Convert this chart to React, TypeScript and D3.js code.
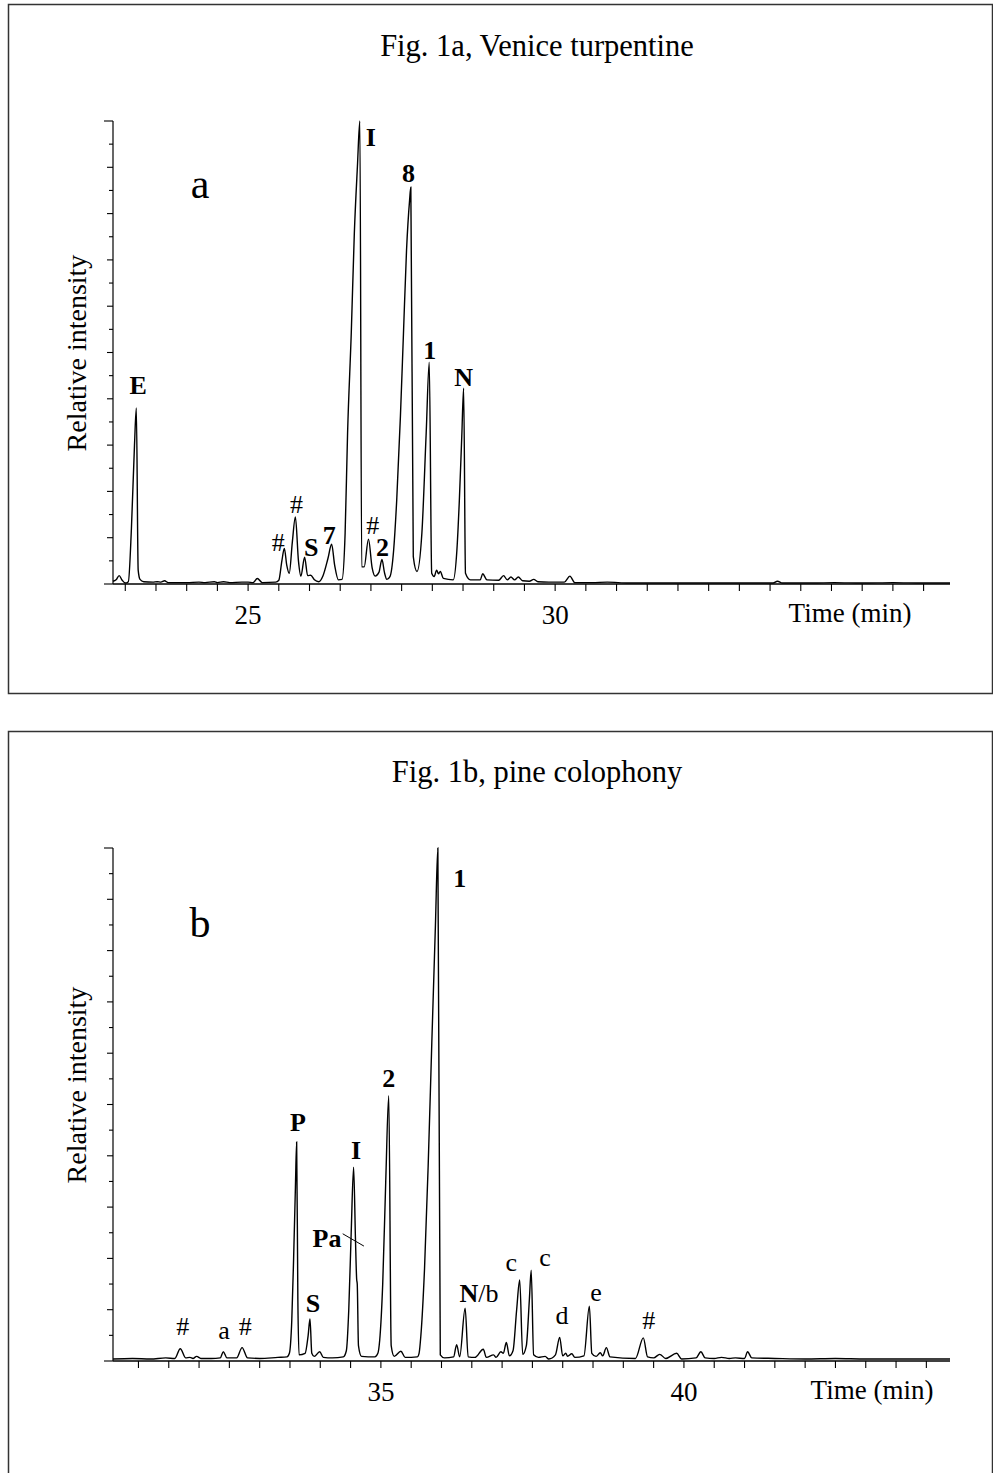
import React from 'react';
import * as d3 from 'd3';

const W = 993;
const H = 1473;
const FONT = '"Liberation Serif", "Times New Roman", Times, serif';

// Venice turpentine chromatogram: [retention time (min), relative intensity (%)]
const turpentineTrace: [number, number][] = [
  [22.8, 0.6], [22.85, 0.9], [22.9, 1.8], [22.95, 0.8], [23.0, 0.2], [23.05, 0.5],
  [23.1, 12], [23.15, 30], [23.18, 38], [23.21, 3], [23.24, 1.0], [23.3, 0.5],
  [23.45, 0.4], [23.52, 0.5], [23.58, 0.4], [23.64, 0.7], [23.7, 0.3], [23.9, 0.3],
  [24.0, 0.3], [24.2, 0.4], [24.3, 0.3], [24.45, 0.5], [24.5, 0.3], [24.6, 0.5],
  [24.7, 0.3], [24.9, 0.4], [25.0, 0.4], [25.08, 0.3], [25.15, 1.2], [25.23, 0.3],
  [25.45, 0.4], [25.5, 0.8], [25.55, 5], [25.59, 7.7], [25.63, 4], [25.67, 2.3],
  [25.72, 9], [25.77, 14.5], [25.82, 5], [25.86, 1.7], [25.92, 5.8], [25.97, 1.8],
  [26.02, 1.9], [26.08, 0.9], [26.15, 0.5], [26.22, 1.8], [26.3, 5.5], [26.36, 8.6],
  [26.41, 4], [26.47, 0.9], [26.53, 1.0], [26.58, 11], [26.62, 32.6], [26.68, 54.2],
  [26.73, 75.8], [26.78, 90.1], [26.82, 100], [26.85, 3.7], [26.89, 3.7], [26.96, 9.7],
  [27.02, 3.5], [27.07, 1.7], [27.13, 2.5], [27.18, 5.3], [27.22, 2.5], [27.26, 1.0],
  [27.31, 1.6], [27.37, 7.3], [27.42, 18.1], [27.48, 36.1], [27.53, 54.1], [27.58, 72.1],
  [27.63, 82.9], [27.65, 85.7], [27.69, 5.9], [27.75, 2.7], [27.83, 11], [27.9, 32.6],
  [27.95, 47.9], [27.99, 2.3], [28.03, 1.6], [28.07, 3.0], [28.1, 2.2], [28.13, 2.7],
  [28.18, 1.2], [28.34, 0.9], [28.4, 7.3], [28.44, 18.1], [28.48, 32], [28.51, 42.3],
  [28.54, 2.3], [28.62, 0.9], [28.78, 0.9], [28.82, 2.2], [28.89, 0.9], [29.08, 0.8],
  [29.16, 1.8], [29.22, 0.9], [29.28, 1.5], [29.34, 0.9], [29.4, 1.5], [29.47, 0.7],
  [29.58, 0.6], [29.65, 1.0], [29.72, 0.5], [29.9, 0.4], [30.15, 0.4], [30.24, 1.7],
  [30.32, 0.3], [30.6, 0.3], [30.85, 0.4], [31.2, 0.2], [31.8, 0.2], [32.4, 0.2],
  [33.0, 0.2], [33.55, 0.2], [33.62, 0.6], [33.7, 0.2], [34.2, 0.2], [34.55, 0.3],
  [35.0, 0.2], [35.5, 0.3], [36.0, 0.2], [36.43, 0.2],
];

// Pine colophony chromatogram: [retention time (min), relative intensity (%)]
const colophonyTrace: [number, number][] = [
  [30.58, 0.4], [30.9, 0.5], [31.2, 0.4], [31.45, 0.6], [31.6, 0.5], [31.69, 2.4],
  [31.78, 0.6], [31.85, 0.7], [31.9, 0.5], [31.96, 0.9], [32.03, 0.5], [32.2, 0.5],
  [32.35, 0.6], [32.4, 1.8], [32.46, 0.6], [32.62, 0.6], [32.71, 2.6], [32.8, 0.6],
  [33.0, 0.5], [33.3, 0.7], [33.45, 0.8], [33.49, 1.5], [33.53, 8], [33.56, 20],
  [33.59, 34], [33.61, 42.7], [33.63, 12], [33.65, 1.2], [33.75, 1.5], [33.8, 5],
  [33.83, 8.2], [33.86, 1.5], [33.9, 0.9], [33.99, 1.8], [34.05, 0.7], [34.2, 0.6],
  [34.38, 0.8], [34.43, 2], [34.47, 10], [34.51, 25], [34.55, 37.8], [34.58, 24],
  [34.6, 16], [34.61, 15], [34.63, 3], [34.68, 0.9], [34.9, 0.8], [34.95, 1.5],
  [34.98, 4], [35.03, 15], [35.08, 35], [35.13, 51.7], [35.17, 3], [35.22, 0.9],
  [35.33, 1.9], [35.4, 0.7], [35.6, 0.8], [35.63, 1.5], [35.66, 5], [35.72, 18],
  [35.78, 38], [35.84, 62], [35.9, 85], [35.94, 100], [35.98, 1.2], [36.05, 0.6],
  [36.2, 0.8], [36.25, 3.2], [36.3, 0.8], [36.39, 10.3], [36.44, 0.8], [36.55, 0.7],
  [36.69, 2.3], [36.74, 0.7], [36.86, 1.2], [36.9, 0.7], [36.98, 1.8], [37.02, 1.5],
  [37.07, 3.6], [37.12, 1.0], [37.18, 2], [37.24, 10], [37.29, 15.8], [37.34, 1.3],
  [37.4, 3], [37.45, 12], [37.48, 17.7], [37.52, 1.2], [37.6, 0.7], [37.71, 0.9],
  [37.77, 0.4], [37.88, 1.2], [37.95, 4.6], [38.0, 1.0], [38.05, 1.5], [38.08, 0.9],
  [38.15, 1.4], [38.2, 0.7], [38.35, 1.0], [38.44, 10.7], [38.48, 1.5], [38.55, 0.9],
  [38.62, 1.6], [38.66, 1.0], [38.72, 2.6], [38.78, 0.8], [39.2, 0.5], [39.33, 4.5],
  [39.4, 0.8], [39.5, 0.6], [39.6, 1.3], [39.7, 0.5], [39.88, 1.5], [39.96, 0.4],
  [40.2, 0.6], [40.28, 1.8], [40.35, 0.6], [40.5, 0.5], [40.62, 0.7], [40.75, 0.5],
  [40.85, 0.6], [41.0, 0.5], [41.05, 1.8], [41.12, 0.6], [41.5, 0.5], [42.0, 0.4],
  [42.5, 0.5], [43.0, 0.4], [43.5, 0.4], [44.39, 0.4],
];

// Peak annotations: text, number of leading bold characters, time, label height (%)
type PeakLabel = { text: string; bold: number; t: number; v: number };

const turpentineLabels: PeakLabel[] = [
  { text: 'E', bold: 1, t: 23.21, v: 43.0 },
  { text: '#', bold: 0, t: 25.49, v: 9.1 },
  { text: '#', bold: 0, t: 25.79, v: 17.4 },
  { text: 'S', bold: 1, t: 26.03, v: 8.1 },
  { text: '7', bold: 1, t: 26.32, v: 10.6 },
  { text: 'I', bold: 1, t: 27.0, v: 96.5 },
  { text: '#', bold: 0, t: 27.03, v: 12.7 },
  { text: '2', bold: 1, t: 27.19, v: 8.1 },
  { text: '8', bold: 1, t: 27.61, v: 88.7 },
  { text: '1', bold: 1, t: 27.96, v: 50.5 },
  { text: 'N', bold: 1, t: 28.51, v: 44.8 },
];

const colophonyLabels: PeakLabel[] = [
  { text: '#', bold: 0, t: 31.73, v: 6.8 },
  { text: 'a', bold: 0, t: 32.41, v: 6.0 },
  { text: '#', bold: 0, t: 32.76, v: 6.8 },
  { text: 'P', bold: 1, t: 33.63, v: 46.6 },
  { text: 'S', bold: 1, t: 33.88, v: 11.3 },
  { text: 'I', bold: 1, t: 34.59, v: 41.1 },
  { text: 'Pa', bold: 2, t: 34.11, v: 24.0 },
  { text: '2', bold: 1, t: 35.13, v: 55.2 },
  { text: '1', bold: 1, t: 36.3, v: 94.2 },
  { text: 'N/b', bold: 1, t: 36.62, v: 13.3 },
  { text: 'c', bold: 0, t: 37.15, v: 19.3 },
  { text: 'c', bold: 0, t: 37.71, v: 20.3 },
  { text: 'd', bold: 0, t: 37.99, v: 9.0 },
  { text: 'e', bold: 0, t: 38.55, v: 13.5 },
  { text: '#', bold: 0, t: 39.42, v: 8.0 },
];

// Leader from the "Pa" label to the shoulder on the I peak
const colophonyLeaders: [number, number][][] = [
  [[34.37, 24.8], [34.72, 22.4]],
];

const intensityTicks = d3.range(0, 101, 5);
const turpentineTimeTicks = d3.range(23, 36.01, 0.5);
const turpentineTimeLabels = [25, 30];
const colophonyTimeTicks = d3.range(31, 44.01, 0.5);
const colophonyTimeLabels = [35, 40];

type PanelProps = {
  box: { x: number; y: number; w: number; h: number };
  title: string;
  titleY: number;
  letter: string;
  letterPos: [number, number];
  yLabelY: number;
  domain: [number, number];
  xRange: [number, number];
  yRange: [number, number];
  trace: [number, number][];
  labels: PeakLabel[];
  leaders: [number, number][][];
  timeTicks: number[];
  timeLabels: number[];
  timeTitleX: number;
};

function Panel(p: PanelProps) {
  const x = d3.scaleLinear().domain(p.domain).range(p.xRange);
  const y = d3.scaleLinear().domain([0, 100]).range(p.yRange);
  const line = d3
    .line<[number, number]>()
    .x((d) => x(d[0]))
    .y((d) => y(d[1]))
    .curve(d3.curveMonotoneX);
  const axisY = p.yRange[0];
  const x0 = p.xRange[0];

  return (
    <g>
      <rect
        x={p.box.x}
        y={p.box.y}
        width={p.box.w}
        height={p.box.h}
        fill="none"
        stroke="#333"
        strokeWidth={1.5}
      />
      <text x={537} y={p.titleY} textAnchor="middle" fontSize={30.5} fontFamily={FONT}>
        {p.title}
      </text>
      <text
        x={p.letterPos[0]}
        y={p.letterPos[1]}
        textAnchor="middle"
        fontSize={42}
        fontFamily={FONT}
      >
        {p.letter}
      </text>
      <text
        transform={`translate(${86},${p.yLabelY}) rotate(-90)`}
        textAnchor="middle"
        fontSize={28}
        fontFamily={FONT}
      >
        Relative intensity
      </text>

      {/* intensity axis */}
      <line x1={x0} x2={x0} y1={y(0)} y2={y(100)} stroke="#000" strokeWidth={1.2} />
      {intensityTicks.map((v, i) => {
        const len = v === 0 || v === 100 ? 9 : v % 10 === 0 ? 6 : 4;
        return (
          <line
            key={i}
            x1={x0 - len}
            x2={x0}
            y1={y(v)}
            y2={y(v)}
            stroke="#000"
            strokeWidth={1.1}
          />
        );
      })}

      {/* time axis */}
      <line x1={x0} x2={p.xRange[1]} y1={axisY} y2={axisY} stroke="#000" strokeWidth={1.3} />
      {p.timeTicks.map((t, i) => (
        <line
          key={i}
          x1={x(t)}
          x2={x(t)}
          y1={axisY}
          y2={axisY + 7}
          stroke="#000"
          strokeWidth={1.1}
        />
      ))}
      {p.timeLabels.map((t) => (
        <text
          key={t}
          x={x(t)}
          y={axisY + 40}
          textAnchor="middle"
          fontSize={27}
          fontFamily={FONT}
        >
          {t}
        </text>
      ))}
      <text
        x={p.timeTitleX}
        y={axisY + 38}
        textAnchor="middle"
        fontSize={27}
        fontFamily={FONT}
      >
        Time (min)
      </text>

      <path d={line(p.trace) ?? ''} fill="none" stroke="#000" strokeWidth={1.4} />

      {p.leaders.map((seg, i) => (
        <line
          key={i}
          x1={x(seg[0][0])}
          y1={y(seg[0][1])}
          x2={x(seg[1][0])}
          y2={y(seg[1][1])}
          stroke="#000"
          strokeWidth={1}
        />
      ))}

      {p.labels.map((l, i) => (
        <text
          key={i}
          x={x(l.t)}
          y={y(l.v)}
          dy="0.35em"
          textAnchor="middle"
          fontSize={26}
          fontFamily={FONT}
        >
          {l.bold > 0 && <tspan fontWeight="bold">{l.text.slice(0, l.bold)}</tspan>}
          {l.bold < l.text.length && <tspan>{l.text.slice(l.bold)}</tspan>}
        </text>
      ))}
    </g>
  );
}

export default function App() {
  return (
    <svg
      width={W}
      height={H}
      viewBox={`0 0 ${W} ${H}`}
      style={{ position: 'absolute', left: 0, top: 0, background: '#fff' }}
    >
      <rect x={0} y={0} width={W} height={H} fill="#fff" />
      <Panel
        box={{ x: 8.5, y: 4.5, w: 984, h: 689 }}
        title="Fig. 1a, Venice turpentine"
        titleY={56}
        letter="a"
        letterPos={[200, 198]}
        yLabelY={353}
        domain={[22.8, 36.43]}
        xRange={[113, 950]}
        yRange={[584, 121]}
        trace={turpentineTrace}
        labels={turpentineLabels}
        leaders={[]}
        timeTicks={turpentineTimeTicks}
        timeLabels={turpentineTimeLabels}
        timeTitleX={850}
      />
      <Panel
        box={{ x: 8.5, y: 731.5, w: 984, h: 760 }}
        title="Fig. 1b, pine colophony"
        titleY={782}
        letter="b"
        letterPos={[200, 937]}
        yLabelY={1085}
        domain={[30.58, 44.39]}
        xRange={[113, 950]}
        yRange={[1361, 848]}
        trace={colophonyTrace}
        labels={colophonyLabels}
        leaders={colophonyLeaders}
        timeTicks={colophonyTimeTicks}
        timeLabels={colophonyTimeLabels}
        timeTitleX={872}
      />
    </svg>
  );
}
